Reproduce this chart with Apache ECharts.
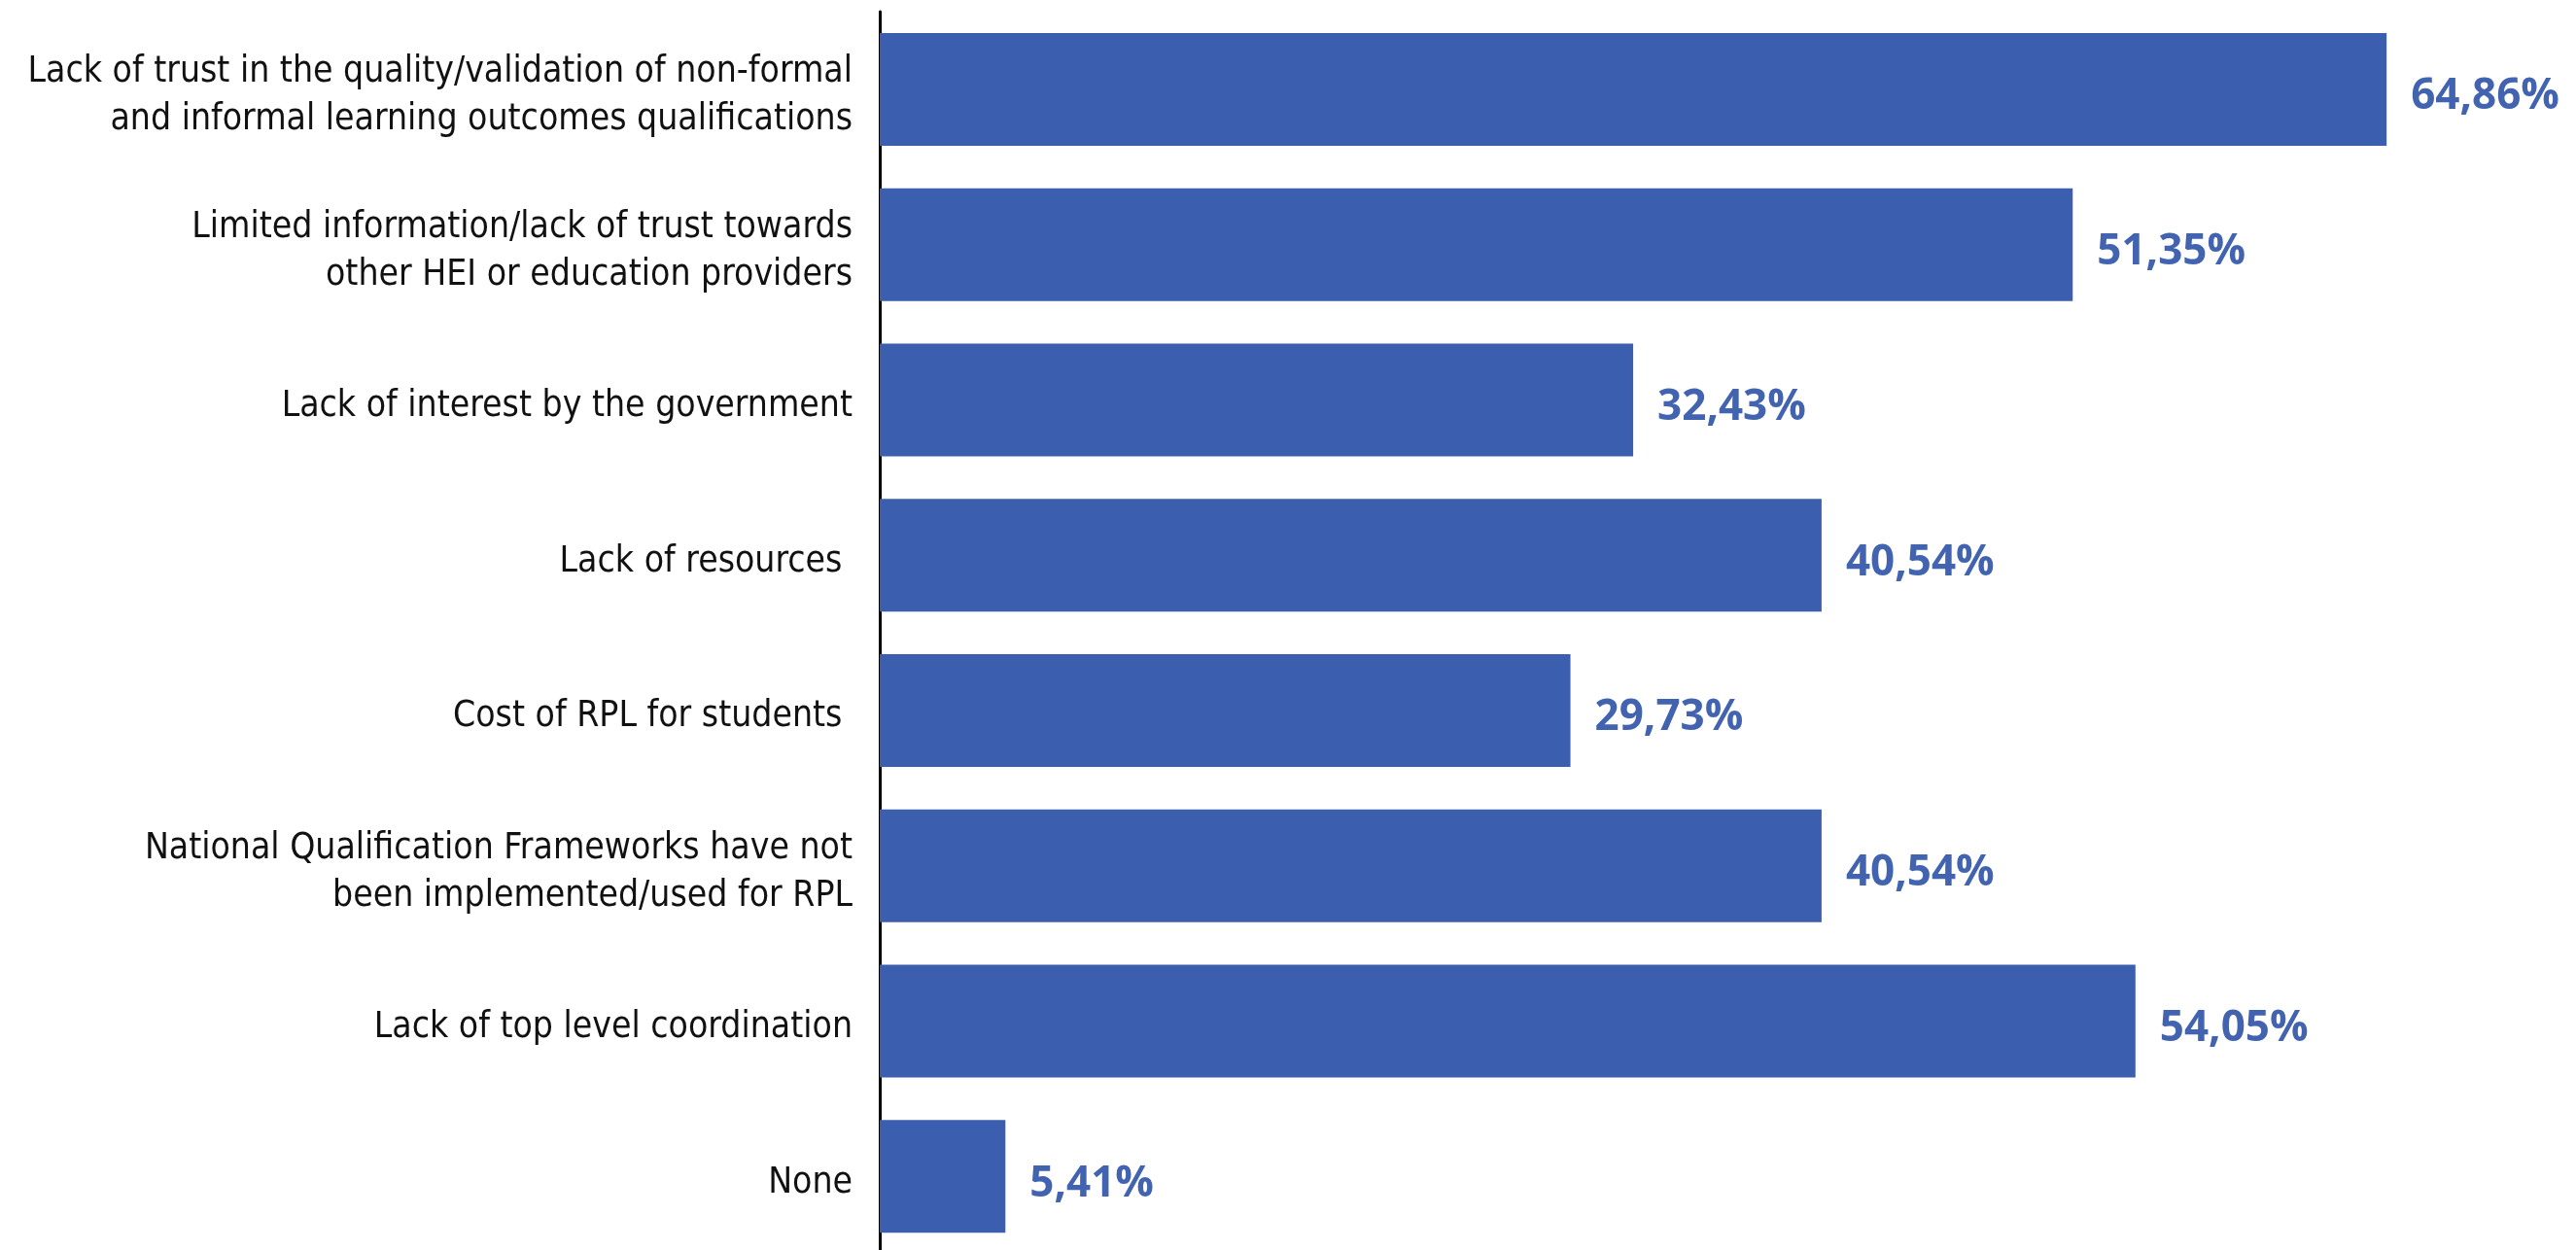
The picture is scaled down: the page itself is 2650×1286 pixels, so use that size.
<!DOCTYPE html>
<html lang="en">

<head>
	<meta charset="UTF-8">
	<title>RPL obstacles</title>
	<script src="https://cdn.jsdelivr.net/npm/echarts@6/dist/echarts.min.js"></script>
	<style>
		html,
		body,
		#main {
			width: 100%;
			height: 100%;
			margin: 0;
			padding: 0;
			overflow: hidden;
			background: #fff;
		}
	</style>
</head>

<body>
	<div id="main"></div>

	<script>
		//类目（从上到下）
		var categories = [
			"Lack of trust in the quality/validation of non-formal\nand informal learning outcomes qualifications",
			"Limited information/lack of trust towards\nother HEI or education providers",
			"Lack of interest by the government",
			"Lack of resources ",
			"Cost of RPL for students ",
			"National Qualification Frameworks have not\nbeen implemented/used for RPL",
			"Lack of top level coordination",
			"None"
		];
		//百分比
		var values = [64.86, 51.35, 32.43, 40.54, 29.73, 40.54, 54.05, 5.41];

		var myChart = echarts.init(document.getElementById("main"));

		var option = {
			animation: false,
			grid: {
				left: 905,
				top: 12,
				width: 1673,
				height: 1278,
				containLabel: false,
				outerBoundsMode: 'none'
			},
			xAxis: {
				type: 'value',
				min: 0,
				max: 70,
				show: false
			},
			yAxis: {
				type: 'category',
				inverse: true,
				data: categories,
				axisLine: {
					show: true,
					lineStyle: { color: '#000', width: 3 }
				},
				axisTick: { show: false },
				axisLabel: {
					margin: 28,
					align: 'right',
					//顶部加一行空白，让文字略低于柱中心
					formatter: function (v) {
						return '{s| }\n' + v.split('\n').map(function (l) {
							return '{a|' + l + '}';
						}).join('\n');
					},
					rich: {
						s: { fontSize: 1, lineHeight: 14 },
						a: {
							fontSize: 37,
							lineHeight: 49,
							color: '#111',
							fontFamily: "'DejaVu Sans Condensed', sans-serif"
						}
					}
				}
			},
			series: [
				{
					type: 'bar',
					data: values,
					barWidth: 116,
					itemStyle: { color: '#3C5EAE' },
					label: {
						show: true,
						position: 'right',
						distance: 25,
						offset: [0, 8],
						color: '#4263B0',
						fontSize: 44,
						fontWeight: 'bold',
						fontFamily: "'Open Sans', sans-serif",
						formatter: function (p) {
							return p.value.toFixed(2).replace('.', ',') + '%';
						}
					}
				}
			]
		};

		option && myChart.setOption(option);
	</script>
</body>

</html>
